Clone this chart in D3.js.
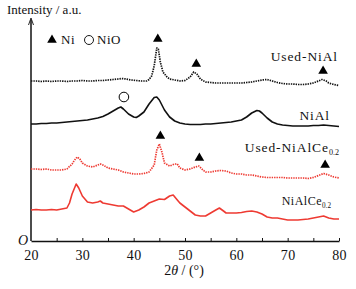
<!DOCTYPE html>
<html>
<head>
<meta charset="utf-8">
<script src="https://cdn.jsdelivr.net/npm/d3@7"></script>
<style>
  body { margin: 0; background: #fff; }
</style>
</head>
<body>
<div id="chart"></div>
<script>
// XRD patterns, intensity in stacked a.u. (offsets included)
const usedNiAl = [[20,160],[21,160],[22,159.5],[23,160],[24,159.5],[25,160],[26,160],[27,159.5],[28,160],[29,160],[30,160.5],[31,160],[32,160],[33,160.5],[34,160.5],[35,161],[36,161.5],[37,162],[37.6,162.5],[38.5,162],[39.5,161],[40.5,160.5],[41.5,160],[42.5,160],[43,161.5],[43.5,165],[44,175],[44.5,193],[44.8,192],[45.2,179],[45.7,169],[46.5,164],[47,162],[48,161],[49,160],[50,160.5],[51,164],[51.7,169],[52.3,167],[53,162],[54,159],[55,158.5],[56,158],[57,158],[58,158],[59,158],[60,158],[61,158],[62,158.5],[63,159],[64,160],[65,161],[66,161.5],[67,160],[68,158.5],[69,157.5],[70,157],[71,157],[72,156.5],[73,156.5],[74,157],[75,158],[76,160],[76.7,161.5],[77.5,160],[78,158],[79,156.5],[80,155.5]];
const niAl = [[20,117],[21,117],[22,117.5],[23,117.5],[24,118],[25,118],[26,118.5],[27,119],[28,119.5],[29,120],[30,120.5],[31,121],[32,122],[33,123],[34,124.5],[35,127],[36,130],[37,133],[37.5,134],[38,132],[39,127],[40,124],[40.5,123.5],[41,125],[42,129],[43,137],[44,143.5],[44.5,144],[45,141],[46,131],[47,124],[48,120],[49,118],[50,117],[51,116.5],[52,116.5],[53,116.5],[54,117],[55,117],[56,117.5],[57,118],[58,118.5],[59,119],[60,120],[61,121],[62,124],[63,128],[64,130.5],[64.5,130],[65,128],[66,123],[67,119],[68,117],[69,116],[70,115.5],[71,115],[72,115],[73,115],[74,115],[75,115.5],[76,115.5],[77,116],[78,115.5],[79,115],[80,114.5]];
const usedNiAlCe = [[20,72],[21,72],[22,71.5],[23,72],[24,71],[25,71],[26,71],[27,72],[28,77],[28.5,81],[29,84],[29.5,82],[30,78],[31,75],[32,74],[33,76],[33.5,77],[34,76],[35,73],[36,72],[37,71],[38,69],[39,68],[40,67],[41,67],[42,67.5],[43,69],[44,76],[44.5,91],[45,97],[45.5,89],[46,78],[47,75],[48,77],[48.5,77],[49,73],[50,71],[51,72],[52,74],[52.7,75],[53.5,71],[54,69],[55,69],[56,70],[57,70.5],[58,70],[59,68],[60,67],[61,67],[62,66],[63,66],[64,65],[65,64],[66,63.5],[67,63.5],[68,63.5],[69,63.5],[70,63],[71,63],[72,63],[73,63],[74,62.5],[75,63.5],[76,65.5],[77,67.5],[78,66],[79,64],[80,63]];
const niAlCe = [[20,31],[21,31.5],[22,31],[23,31],[24,31.5],[25,31],[26,32],[27,33],[27.5,38],[28,47],[28.8,57],[29.3,53],[30,45],[31,39],[32,38],[33,39],[33.5,40],[34,38],[35,37],[36,36],[37,35],[38,35],[39,32],[40,29],[41,31],[42,34],[43,38],[44,40],[45,42],[46,41.5],[47,45],[47.7,46],[48.5,41],[49,38],[50,34],[51,30],[52,26],[53,25],[54,25],[55,28],[56,31],[56.7,33],[57.5,30],[58,28],[59,28],[60,28],[61,28.5],[62,29.5],[63,30],[64,29],[65,27],[66,24],[67,23],[68,23],[69,22],[70,21],[71,21],[72,21],[73,21.5],[74,22],[75,23],[76,24],[77,25],[78,23],[79,22],[80,22]];

// phase markers (2θ, stacked intensity)
const niMarks = [[44.7,202],[52.2,177],[76.9,170],[45.2,105],[52.8,83],[77.3,76]];
const nioMarks = [[38.1,144]];

const xTicks = [20, 30, 40, 50, 60, 70, 80];
const xMinor = [25, 35, 45, 55, 65, 75];

const FONT = '"Liberation Serif", "Times New Roman", serif';

const series = [
  { name: 'Used-NiAl', data: usedNiAl, color: '#111', dash: '1.4,1', label: [338, 61], size: 13.5, ls: 0.9 },
  { name: 'NiAl', data: niAl, color: '#111', dash: null, label: [330, 120], size: 13.5, ls: 0.9 },
  { name: 'Used-NiAlCe', sub: '0.2', data: usedNiAlCe, color: '#ee3a32', dash: '1.4,1', label: [339, 152], size: 13.5, ls: 0.9 },
  { name: 'NiAlCe', sub: '0.2', data: niAlCe, color: '#ee3a32', dash: null, label: [331, 205], size: 12, ls: 0.5 }
];

const W = 356, H = 289;
const svg = d3.select('#chart').append('svg')
  .attr('width', W).attr('height', H)
  .attr('font-family', FONT);

const x = d3.scaleLinear().domain([20, 80]).range([31, 339]);
const y = d3.scaleLinear().domain([0, 223]).range([241, 18]);

// axes
const xAxis = svg.append('g').attr('transform', `translate(0,${y(0)})`)
  .call(d3.axisBottom(x).tickValues(xTicks).tickSize(0).tickPadding(9).tickFormat(d3.format('d')));
xAxis.attr('font-family', FONT).attr('font-size', 14);
xAxis.select('.domain').attr('stroke', '#111').attr('stroke-width', 1.5);
xAxis.selectAll('text').attr('fill', '#111').attr('letter-spacing', 0.3);

svg.append('g').attr('transform', `translate(0,${y(0)})`)
  .call(d3.axisTop(x).tickValues(xMinor.concat(xTicks.slice(1))).tickSize(3).tickFormat(''))
  .call(g => g.select('.domain').remove())
  .selectAll('line').attr('stroke', '#111');

svg.append('line')
  .attr('x1', x(20)).attr('x2', x(20))
  .attr('y1', y(0)).attr('y2', y(221))
  .attr('stroke', '#111').attr('stroke-width', 1.5);
svg.append('path')
  .attr('d', `M${x(20) - 2.5},${y(216)} L${x(20)},${y(223)} L${x(20) + 2.5},${y(216)}`)
  .attr('fill', 'none').attr('stroke', '#111').attr('stroke-width', 0.9);

svg.append('text').attr('x', 7).attr('y', 14).attr('font-size', 13).attr('fill', '#111').text('Intensity / a.u.');
svg.append('text').attr('x', 18).attr('y', 245).attr('font-size', 14).attr('font-style', 'italic').attr('fill', '#111').text('O');

const xl = svg.append('text').attr('x', 184).attr('y', 275).attr('text-anchor', 'middle').attr('font-size', 14).attr('fill', '#111');
xl.append('tspan').text('2');
xl.append('tspan').attr('font-style', 'italic').text('θ');
xl.append('tspan').text(' / (°)');

// curves
const line = d3.line().x(d => x(d[0])).y(d => y(d[1]));
series.forEach(s => {
  svg.append('path')
    .datum(s.data)
    .attr('fill', 'none')
    .attr('stroke', s.color)
    .attr('stroke-width', s.dash ? 1.7 : 1.6)
    .attr('stroke-dasharray', s.dash)
    .attr('stroke-linejoin', 'round')
    .attr('d', line);

  const t = svg.append('text')
    .attr('x', s.label[0]).attr('y', s.label[1])
    .attr('text-anchor', 'end')
    .attr('font-size', s.size)
    .attr('letter-spacing', s.ls)
    .attr('fill', '#111')
    .text(s.name);
  if (s.sub) {
    t.append('tspan').attr('dy', 3).attr('font-size', s.size * 0.6).attr('letter-spacing', 0).text(s.sub);
  }
});

// markers
const tri = d3.symbol().type(d3.symbolTriangle).size(40);
svg.selectAll('.ni').data(niMarks).enter().append('path')
  .attr('class', 'ni')
  .attr('transform', d => `translate(${x(d[0])},${y(d[1])})`)
  .attr('d', tri).attr('fill', '#000');
svg.selectAll('.nio').data(nioMarks).enter().append('circle')
  .attr('class', 'nio')
  .attr('cx', d => x(d[0])).attr('cy', d => y(d[1])).attr('r', 4.8)
  .attr('fill', '#fff').attr('stroke', '#000').attr('stroke-width', 1);

// legend
const lg = svg.append('g');
lg.append('path').attr('transform', 'translate(52,40)').attr('d', tri).attr('fill', '#000');
lg.append('text').attr('x', 61).attr('y', 44).attr('font-size', 13).attr('letter-spacing', 0.5).attr('fill', '#111').text('Ni');
lg.append('circle').attr('cx', 89).attr('cy', 40).attr('r', 4.5)
  .attr('fill', '#fff').attr('stroke', '#000').attr('stroke-width', 0.9);
lg.append('text').attr('x', 97).attr('y', 44).attr('font-size', 13).attr('letter-spacing', 0.5).attr('fill', '#111').text('NiO');
</script>
</body>
</html>
